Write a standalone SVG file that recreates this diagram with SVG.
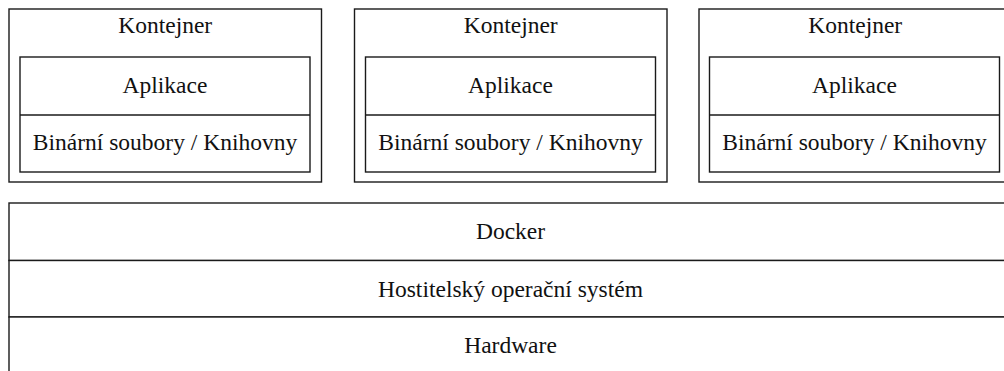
<svg xmlns="http://www.w3.org/2000/svg" width="1004" height="371" viewBox="0 0 1004 371">
<style>
.b{fill:#fff;stroke:#1a1a1a;stroke-width:1.4}
.l{stroke:#1a1a1a;stroke-width:1.4;fill:none}
.t{font-family:'Liberation Serif','Times New Roman',serif;font-size:23.5px;fill:#111;text-anchor:middle}
</style>
<rect width="1004" height="371" fill="#fff"/>
<g id="container1">
<rect class="b" x="9" y="9" width="312.5" height="173"/>
<text class="t" x="165.2" y="33">Kontejner</text>
<rect class="b" x="20" y="57" width="290" height="115"/>
<line class="l" x1="20" y1="115" x2="310" y2="115"/>
<text class="t" x="165" y="93">Aplikace</text>
<text class="t" x="165" y="150">Binární soubory / Knihovny</text>
</g>
<g id="container2">
<rect class="b" x="354.5" y="9" width="312.5" height="173"/>
<text class="t" x="510.7" y="33">Kontejner</text>
<rect class="b" x="365.5" y="57" width="290" height="115"/>
<line class="l" x1="365.5" y1="115" x2="655.5" y2="115"/>
<text class="t" x="510.5" y="93">Aplikace</text>
<text class="t" x="510.5" y="150">Binární soubory / Knihovny</text>
</g>
<g id="container3">
<rect class="b" x="699" y="9" width="312.5" height="173"/>
<text class="t" x="855.2" y="33">Kontejner</text>
<rect class="b" x="709.5" y="57" width="290" height="115"/>
<line class="l" x1="709.5" y1="115" x2="999.5" y2="115"/>
<text class="t" x="854.5" y="93">Aplikace</text>
<text class="t" x="854.5" y="150">Binární soubory / Knihovny</text>
</g>
<g id="docker">
<rect class="b" x="9" y="203" width="1002.5" height="57.5"/>
<text class="t" x="510.5" y="239">Docker</text>
</g>
<g id="hostos">
<rect class="b" x="9" y="260.5" width="1002.5" height="56.5"/>
<text class="t" x="510.5" y="296.7">Hostitelský operační systém</text>
</g>
<g id="hardware">
<rect class="b" x="9" y="317" width="1002.5" height="60"/>
<text class="t" x="510.5" y="353.3">Hardware</text>
</g>
<g id="connectors"></g>
</svg>
